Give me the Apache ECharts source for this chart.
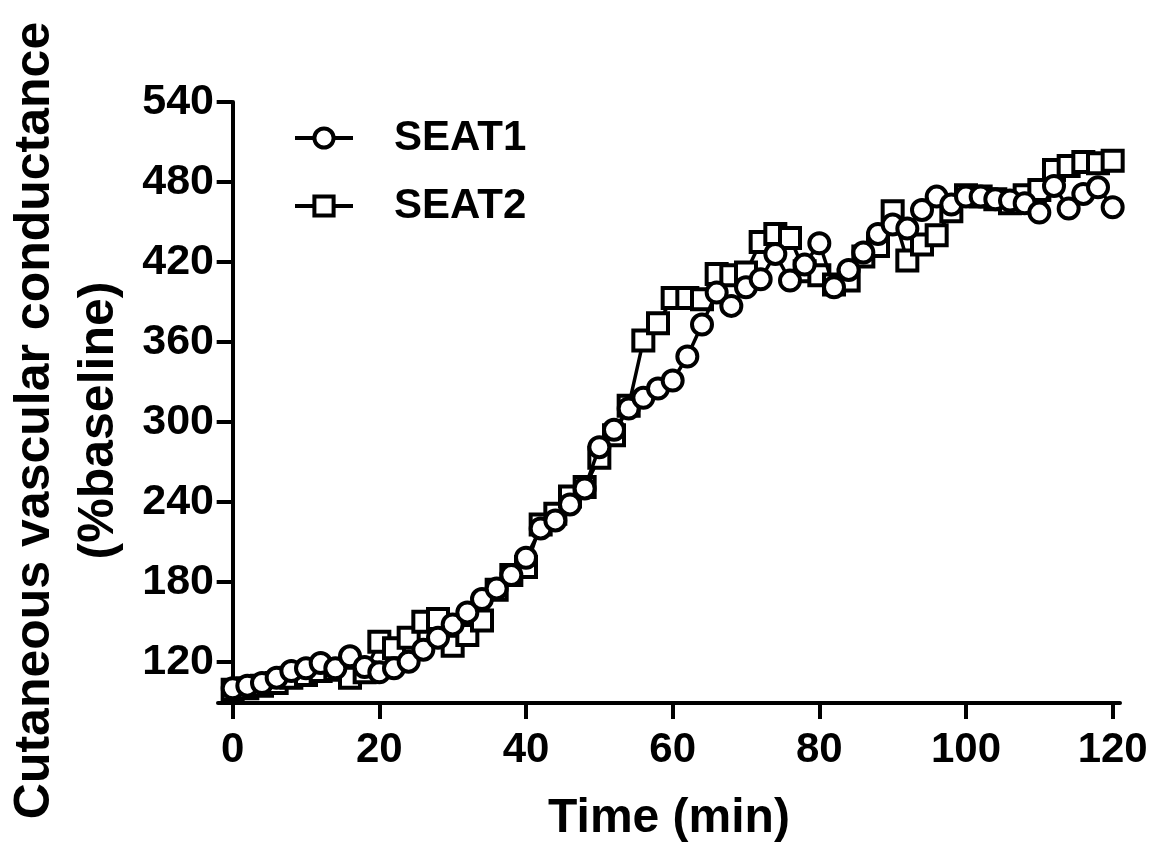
<!DOCTYPE html>
<html>
<head>
<meta charset="utf-8">
<script src="https://cdn.jsdelivr.net/npm/echarts@6/dist/echarts.min.js"></script>
<style>html,body{margin:0;padding:0;background:#fff;}#c{width:1154px;height:847px;}</style>
</head>
<body>
<div id="c"></div>
<script>
const time = [0,2,4,6,8,10,12,14,16,18,20,22,24,26,28,30,32,34,36,38,40,42,44,46,48,50,52,54,56,58,60,62,64,66,68,70,72,74,76,78,80,82,84,86,88,90,92,94,96,98,100,102,104,106,108,110,112,114,116,118,120];
const seat1 = [100,102,104,108,113,115,119,115,124,116,112,115,120,129,138,148,157,167,175,185,198,220,226,238,250,281,294,310,318,325,331,349,373,397,387,401,407,426,406,418,434,401,414,427,441,448,445,459,469,463,469,469,467,466,464,457,477,460,471,476,461];
const seat2 = [99,100,102,104,108,110,113,114,108,112,135,130,138,150,152,132,140,151,174,185,191,223,231,244,251,273,290,312,361,374,393,393,392,411,410,412,435,441,438,413,410,403,406,424,432,458,421,433,440,458,470,469,467,464,470,474,489,492,495,494,496];
const xTicks = [0,20,40,60,80,100,120];
const yTicks = [120,180,240,300,360,420,480,540];
const seriesNames = ['SEAT1','SEAT2'];
const xTitle = 'Time (min)';
const yTitle = 'Cutaneous vascular conductance\n(%baseline)';

const FONT = "'Liberation Sans', Arial, Helvetica, sans-serif";
const chart = echarts.init(document.getElementById('c'), null, {renderer:'canvas'});
const pairs = arr => time.map((t,i)=>[t, arr[i]]);
chart.setOption({
  animation:false,
  backgroundColor:'#fff',
  grid:{left:218, right:34, top:102, bottom:144, containLabel:false, outerBoundsMode:'none'},
  legend:{
    orient:'vertical', left:288, top:112, itemWidth:58, itemHeight:24, itemGap:26,
    data:seriesNames,
    lineStyle:{width:4},
    itemStyle:{borderWidth:4},
    textStyle:{fontFamily:FONT, fontWeight:'bold', fontSize:42, color:'#000', padding:[0,0,0,36]}
  },
  xAxis:{
    type:'value', min:-2, max:121,
    name:xTitle, nameLocation:'middle', nameGap:92,
    nameTextStyle:{fontFamily:FONT, fontWeight:'bold', fontSize:48, color:'#000'},
    axisLine:{lineStyle:{color:'#000', width:4}},
    axisTick:{show:true, length:16, lineStyle:{color:'#000', width:4}, customValues:xTicks},
    axisLabel:{fontFamily:FONT, fontWeight:'bold', fontSize:42, color:'#000', margin:26, customValues:xTicks},
    splitLine:{show:false}
  },
  yAxis:{
    type:'value', min:89, max:540,
    name:yTitle, nameLocation:'middle', nameRotate:90, nameGap:86,
    nameTextStyle:{fontFamily:FONT, fontWeight:'bold', fontSize:50, lineHeight:64, color:'#000', padding:[0,36,0,0]},
    axisLine:{onZero:true, lineStyle:{color:'#000', width:4}},
    axisTick:{show:true, length:16, lineStyle:{color:'#000', width:4}, customValues:yTicks},
    axisLabel:{fontFamily:FONT, fontWeight:'bold', fontSize:43, color:'#000', margin:4, customValues:yTicks},
    splitLine:{show:false}
  },
  series:[
    {name:seriesNames[0], type:'line', data:pairs(seat1), z:4,
     symbol:'circle', symbolSize:20, showAllSymbol:true,
     lineStyle:{color:'#000', width:3.5},
     itemStyle:{color:'#fff', borderColor:'#000', borderWidth:4}},
    {name:seriesNames[1], type:'line', data:pairs(seat2), z:3,
     symbol:'rect', symbolSize:20, showAllSymbol:true,
     lineStyle:{color:'#000', width:3.5},
     itemStyle:{color:'#fff', borderColor:'#000', borderWidth:4}}
  ]
});
</script>
</body>
</html>
